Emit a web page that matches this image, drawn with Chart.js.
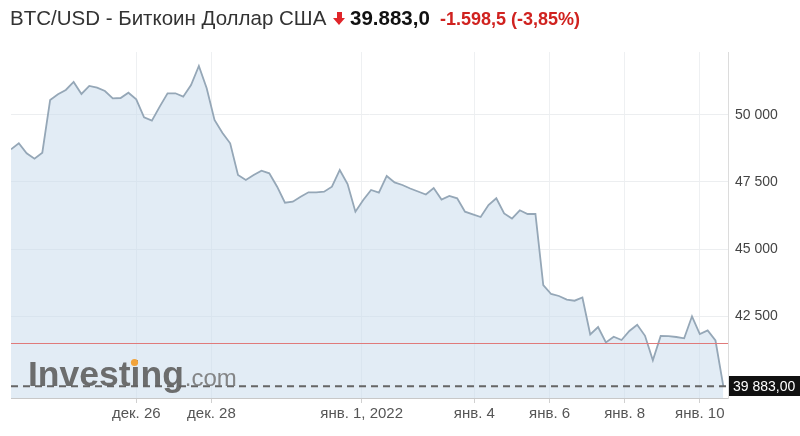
<!DOCTYPE html>
<html>
<head>
<meta charset="utf-8">
<script src="https://cdn.jsdelivr.net/npm/chart.js@4/dist/chart.umd.min.js"></script>
<style>
  html, body { margin:0; padding:0; background:#fff; }
  #wrap { position:relative; width:800px; height:436px; overflow:hidden; font-family:"Liberation Sans", Arial, sans-serif; }
  #c { position:absolute; left:0; top:0; }
  .t { position:absolute; white-space:nowrap; line-height:24px; top:6px; }
  #name { left:10px; font-size:20.5px; color:#333; }
  #price { left:350px; font-size:20.5px; font-weight:bold; color:#111; }
  #chg { left:440px; font-size:18px; font-weight:bold; color:#d0221f; top:7px; }
  #arrow { position:absolute; left:333px; top:12px; width:12px; height:14px; }
  #arrow .shaft { position:absolute; left:4px; top:0; width:5px; height:7px; background:#e0252a; }
  #arrow .head { position:absolute; left:0; top:6px; width:0; height:0; border-left:6.5px solid transparent; border-right:6.5px solid transparent; border-top:7px solid #e0252a; }
</style>
</head>
<body>
<div id="wrap">
  <canvas id="c" width="800" height="436"></canvas>
  <div class="t" id="name">BTC/USD - Биткоин Доллар США</div>
  <div id="arrow"><div class="shaft"></div><div class="head"></div></div>
  <div class="t" id="price">39.883,0</div>
  <div class="t" id="chg">-1.598,5 (-3,85%)</div>
</div>
<script>
// ---- data ----
const startHour = -80;   // first point: 22 Dec 16:00, hours relative to 26 Dec 00:00
const stepHours = 5;
const prices = [
  48720, 48944, 48571, 48370, 48593, 50560, 50772, 50933, 51231, 50784,
  51082, 51019, 50895, 50623, 50634, 50832, 50586, 49914, 49787, 50310,
  50810, 50810, 50683, 51119, 51828, 50996, 49813, 49340, 48944, 47761,
  47575, 47761, 47922, 47825, 47325, 46728, 46765, 46952, 47116, 47116,
  47138, 47325, 47948, 47426, 46392, 46829, 47202, 47101, 47724, 47482,
  47388, 47258, 47146, 47034, 47276, 46847, 46978, 46892, 46392, 46295,
  46194, 46642, 46892, 46325, 46138, 46444, 46306, 46306, 43657, 43322,
  43247, 43109, 43071, 43191, 41810, 42090, 41512, 41728, 41605, 41941,
  42176, 41762, 40848, 41754, 41746, 41717, 41669, 42489, 41829, 41960,
  41587, 39883
];
const tickHours  = [0, 48, 144, 216, 264, 312, 360];
const tickLabels = ['дек. 26', 'дек. 28', 'янв. 1, 2022', 'янв. 4', 'янв. 6', 'янв. 8', 'янв. 10'];
const yTicks = [42500, 45000, 47500, 50000];
const prevClose = 41481.5;
const lastPrice = 39883;
const lastPriceLabel = '39 883,00';

// ---- chart ----
const FONT = '"Liberation Sans", Arial, sans-serif';
const points = prices.map((v, i) => ({ x: startHour + i * stepHours, y: v }));
const fmt = v => String(Math.round(v)).replace(/\B(?=(\d{3})+(?!\d))/g, ' ');

const overlay = {
  id: 'overlay',
  afterDatasetsDraw(chart) {
    const { ctx, chartArea: a, scales: { y } } = chart;
    ctx.save();
    // previous close line
    const yp = Math.round(y.getPixelForValue(prevClose));
    ctx.fillStyle = '#e07a7a';
    ctx.fillRect(a.left, yp, a.right - a.left, 1);
    // last price dashed line
    const yl = y.getPixelForValue(lastPrice);
    ctx.strokeStyle = '#666';
    ctx.lineWidth = 2;
    ctx.setLineDash([7, 5]);
    ctx.beginPath(); ctx.moveTo(a.left, yl); ctx.lineTo(a.right, yl); ctx.stroke();
    ctx.setLineDash([]);
    // watermark
    ctx.textBaseline = 'alphabetic';
    ctx.fillStyle = 'rgba(95,95,95,0.9)';
    ctx.font = 'bold 35.5px ' + FONT;
    ctx.fillText('Investing', 28, 386);
    const w = ctx.measureText('Investing').width;
    ctx.fillStyle = 'rgba(115,115,115,0.85)';
    ctx.font = '24px ' + FONT;
    ctx.fillText('.com', 28 + w + 1, 386);
    ctx.fillStyle = '#f2a33a';
    ctx.beginPath(); ctx.arc(134.5, 362.5, 3.6, 0, Math.PI * 2); ctx.fill();
    ctx.restore();
  },
  afterDraw(chart) {
    const { ctx, chartArea: a, scales: { y } } = chart;
    const yl = y.getPixelForValue(lastPrice);
    ctx.save();
    ctx.fillStyle = '#111';
    ctx.fillRect(a.right + 1, Math.round(yl) - 10, 800 - a.right - 1, 20);
    ctx.fillStyle = '#fff';
    ctx.font = '14px ' + FONT;
    ctx.textBaseline = 'middle';
    ctx.fillText(lastPriceLabel, a.right + 5, yl + 1);
    ctx.restore();
  }
};

new Chart(document.getElementById('c'), {
  type: 'line',
  data: {
    datasets: [{
      data: points,
      borderColor: '#95a7b7',
      borderWidth: 1.8,
      backgroundColor: 'rgba(198,218,236,0.5)',
      fill: 'start',
      pointRadius: 0,
      tension: 0
    }]
  },
  options: {
    responsive: false,
    animation: false,
    events: [],
    layout: { padding: { top: 52, left: 11, right: 0, bottom: 0 } },
    plugins: { legend: { display: false }, tooltip: { enabled: false } },
    scales: {
      x: {
        type: 'linear',
        min: -80,
        max: 378,
        afterBuildTicks: s => { s.ticks = tickHours.map(v => ({ value: v })); },
        afterFit: s => { s.height = 38; },
        ticks: {
          autoSkip: false, maxRotation: 0, padding: 2, color: '#555',
          font: { size: 15, family: FONT },
          callback: v => tickLabels[tickHours.indexOf(v)]
        },
        grid: { color: '#eef0f2', tickColor: '#d0d0d0', tickLength: 5 },
        border: { color: '#c8c8c8' }
      },
      y: {
        position: 'right',
        min: 39441,
        max: 52350,
        afterBuildTicks: s => { s.ticks = yTicks.map(v => ({ value: v })); },
        afterFit: s => { s.width = 72; },
        ticks: {
          padding: 7, color: '#444',
          font: { size: 14, family: FONT },
          callback: v => fmt(v)
        },
        grid: { color: '#eceef0', drawTicks: false },
        border: { color: '#dcdcdc' }
      }
    }
  },
  plugins: [overlay]
});
</script>
</body>
</html>
